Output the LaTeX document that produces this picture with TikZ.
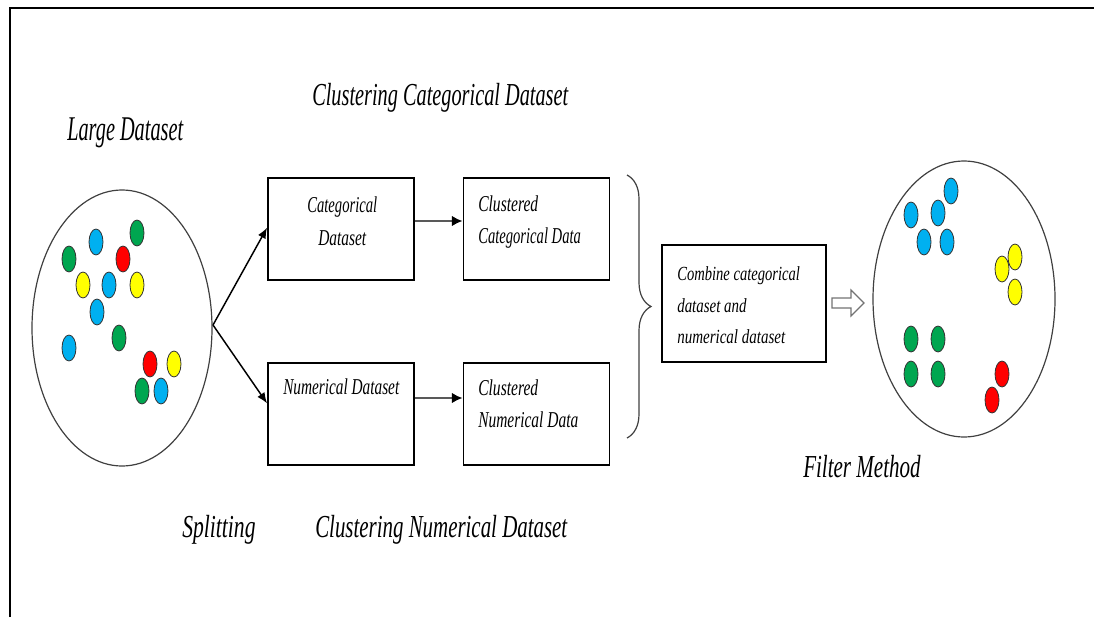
\documentclass[tikz,border=0pt]{standalone}
\usepackage{fontspec}
\setmainfont{Liberation Serif}
\usetikzlibrary{arrows.meta,decorations.pathreplacing}
\definecolor{cblue}{RGB}{0,176,240}
\definecolor{cgreen}{RGB}{0,166,80}
\definecolor{cred}{RGB}{255,0,0}
\definecolor{cyellow}{RGB}{255,255,0}
% condensed italic text: width fixed, natural height kept
\newcommand\fitw[2]{\resizebox{#1}{\height}{#2}}
\tikzset{
  big/.style={anchor=base west,inner sep=0pt,font=\itshape\fontsize{24}{27}\selectfont},
  small/.style={anchor=base west,inner sep=0pt,font=\itshape\fontsize{17}{20}\selectfont},
  tiny/.style={anchor=base west,inner sep=0pt,font=\itshape\fontsize{15}{18}\selectfont},
  stepbox/.style={draw,line width=1.4pt,minimum width=109.5pt,minimum height=77pt,inner sep=0pt},
  pool/.style={draw=black!75,line width=0.9pt},
  bead/.style={draw=black!80,line width=0.6pt},
  split/.style={draw=black,line width=1.1pt,-{Latex[length=8pt,width=6.5pt]}},
  pass/.style={draw=black!65,line width=1.7pt,-{Latex[length=8pt,width=8pt,black]}},
}
\begin{document}
\begin{tikzpicture}[x=0.75pt,y=-0.75pt]
\useasboundingbox (0,0) rectangle (1094,617);
% frame
\draw[line width=2pt] (10,617) -- (10,8) -- (1094,8);

% large dataset pool
\draw[pool] (122,328) ellipse [x radius=90, y radius=138];
\foreach \x/\y/\c in {96/242/cblue,137/233/cgreen,69/259/cgreen,123/259/cred,
  83/285/cyellow,109/285/cblue,137/285/cyellow,97/312/cblue,119/338/cgreen,
  69/348/cblue,150/364/cred,174/364/cyellow,142/391/cgreen,161/391/cblue}
  \draw[bead,fill=\c] (\x,\y) ellipse [x radius=7, y radius=13];
\coordinate (fork) at (213,325);

% filtered pool
\draw[pool] (964,299) ellipse [x radius=91, y radius=138];
\foreach \x/\y/\c in {951/191/cblue,911/215/cblue,938/213/cblue,924/242/cblue,947/242/cblue,
  1015/257/cyellow,1002/269/cyellow,1015/292/cyellow,
  911/339/cgreen,938/339/cgreen,911/374/cgreen,938/374/cgreen,
  1002/374/cred,992/400/cred}
  \draw[bead,fill=\c] (\x,\y) ellipse [x radius=7, y radius=13];

% processing boxes
\node[stepbox] (catbox) at (341,229) {};
\node[stepbox] (ccbox)  at (536.5,229) {};
\node[stepbox] (numbox) at (341,414) {};
\node[stepbox] (cnbox)  at (536.5,414) {};
\node[stepbox,minimum width=123pt,minimum height=87.75pt] (combine) at (744,303.5) {};

% box texts
\node[small] (t1) at (307,212) {\fitw{52.5pt}{Categorical}};
\node[small] (t2) at (318,245) {\fitw{36pt}{Dataset}};
\node[small] (t3) at (478,211) {\fitw{45pt}{Clustered}};
\node[small] (t4) at (478,243) {\fitw{77pt}{Categorical Data}};
\node[small] (t5) at (283,394) {\fitw{87pt}{Numerical Dataset}};
\node[small] (t6) at (478,395) {\fitw{45pt}{Clustered}};
\node[small] (t7) at (478,427) {\fitw{75pt}{Numerical Data}};
\node[tiny] (t8) at (677,280) {\fitw{92pt}{Combine categorical}};
\node[tiny] (t9) at (677,312) {\fitw{52pt}{dataset and}};
\node[tiny] (t10) at (677,343) {\fitw{81pt}{numerical dataset}};

% headings
\node[big,font=\itshape\fontsize{26}{29}\selectfont] (h1) at (67,140) {\fitw{87pt}{Large Dataset}};
\node[big] (h2) at (312,105) {\fitw{192pt}{Clustering Categorical Dataset}};
\node[big] (h3) at (315,537) {\fitw{189pt}{Clustering Numerical Dataset}};
\node[big] (h4) at (182,537) {\fitw{55pt}{Splitting}};
\node[big] (h5) at (803,477) {\fitw{88pt}{Filter Method}};

% connectors
\draw[split] (fork) -- ([yshift=1pt]catbox.west);
\draw[split] (fork) -- ([yshift=8pt]numbox.west);
\draw[pass] ([yshift=6pt]catbox.east) -- ([yshift=6pt]ccbox.west);
\draw[pass] ([yshift=12pt]numbox.east) -- ([yshift=12pt]cnbox.west);

% brace gathering both clustered results
\coordinate (bt) at (627,175);
\coordinate (bb) at (627,438);
\draw[black!75,line width=0.9pt,decorate,decoration={brace,amplitude=18pt}] (bt) -- (bb);

% hollow block arrow towards the filtered pool
\draw[black!55,line width=0.9pt,fill=white]
  (832,298) -- (851,298) -- (851,290) -- (864,303) -- (851,316) -- (851,308) -- (832,308) -- cycle;
\end{tikzpicture}
\end{document}
